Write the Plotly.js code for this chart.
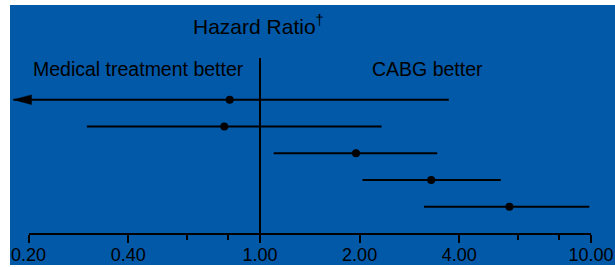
<!DOCTYPE html>
<html><head><meta charset="utf-8">
<script src="https://cdn.plot.ly/plotly-3.0.1.min.js"></script>
<style>html,body{margin:0;padding:0;background:#fff;} #chart{width:615px;height:267px;}</style>
</head><body><div id="chart"></div>
<script>
// ---- data ----
const rows = [1, 2, 3, 4, 5];
const hazardRatio = [0.81, 0.78, 1.95, 3.29, 5.67];
const lowerCI = [0.18, 0.30, 1.10, 2.04, 3.13];
const upperCI = [3.72, 2.33, 3.43, 5.34, 9.88];
const lowerOffScale = [true, false, false, false, false];
const tickVals = [0.2, 0.4, 1, 2, 4, 10];
const tickText = ['0.20', '0.40', '1.00', '2.00', '4.00', '10.00'];
const minorTickVals = [0.6, 0.8, 6, 8];
const refValue = 1;
const titleText = 'Hazard Ratio<sup>†</sup>';
const leftLabel = 'Medical treatment better';
const rightLabel = 'CABG better';

// ---- layout constants ----
const W = 615, H = 267;
const M = {l: 10, r: 0, t: 5, b: 2};
const pw = W - M.l - M.r, ph = H - M.t - M.b;
const pxPerDecade = 331;
const refPx = 260;               // pixel x of HR = 1
const axisLeftPx = 28.6, axisRightPx = 591;
const rowTopPx = 99.7, rowStepPx = 26.75;
const baselinePx = 233.5;
const FONT = 'Liberation Sans, Arial, sans-serif';
const BLUE = '#0159a8';

const xRange = [(M.l - refPx) / pxPerDecade, (W - M.r - refPx) / pxPerDecade];
const yTop = rows[0] - (rowTopPx - M.t) / rowStepPx;
const yBot = rows[0] + (H - M.b - rowTopPx) / rowStepPx;
const pyToVal = py => rows[0] + (py - rowTopPx) / rowStepPx;
const pxFrac = px => (px - M.l) / pw;
const pyFrac = py => (H - M.b - py) / ph;

const traces = [];
// CI lines
const lx = [], ly = [];
rows.forEach((r, i) => { lx.push(lowerCI[i], upperCI[i], null); ly.push(r, r, null); });
traces.push({x: lx, y: ly, mode: 'lines', line: {color: '#000', width: 2}, hoverinfo: 'skip', showlegend: false});
// arrowheads for off-scale limits
rows.forEach((r, i) => {
  if (!lowerOffScale[i]) return;
  const tip = lowerCI[i];
  const base = tip * Math.pow(10, 18 / pxPerDecade);
  const hh = 4.8 / rowStepPx;
  traces.push({x: [tip, base, base, tip], y: [r, r - hh, r + hh, r], mode: 'lines', fill: 'toself',
    fillcolor: '#000', line: {color: '#000', width: 0.5}, hoverinfo: 'skip', showlegend: false});
});
// point estimates
traces.push({x: hazardRatio, y: rows, mode: 'markers', marker: {color: '#000', size: 8}, hoverinfo: 'skip', showlegend: false});
// reference line at HR = 1
traces.push({x: [refValue, refValue], y: [pyToVal(58), pyToVal(baselinePx)], mode: 'lines',
  line: {color: '#000', width: 2}, hoverinfo: 'skip', showlegend: false});
// invisible trace to carry the scale axis
traces.push({x: [refValue], y: [rows[0]], xaxis: 'x2', yaxis: 'y', mode: 'markers', marker: {opacity: 0},
  hoverinfo: 'skip', showlegend: false});

const layout = {
  width: W, height: H, margin: M,
  paper_bgcolor: '#fff', plot_bgcolor: 'rgba(0,0,0,0)',
  font: {family: FONT, color: '#000'},
  showlegend: false,
  xaxis: {type: 'log', range: xRange, visible: false, fixedrange: true},
  xaxis2: {type: 'log', domain: [pxFrac(axisLeftPx), pxFrac(axisRightPx)],
    range: [Math.log10(tickVals[0]), Math.log10(tickVals[tickVals.length - 1])],
    anchor: 'free', position: pyFrac(baselinePx),
    showline: true, linecolor: '#000', linewidth: 2,
    ticks: 'outside', ticklen: 8, tickwidth: 2, tickcolor: '#000',
    tickmode: 'array', tickvals: tickVals, ticktext: tickText,
    tickfont: {family: FONT, size: 18, color: '#000'}, ticklabelstandoff: -3,
    showgrid: false, zeroline: false, fixedrange: true,
    minor: {tickmode: 'array', tickvals: minorTickVals, ticks: 'outside', ticklen: 5, tickwidth: 2, tickcolor: '#000', showgrid: false}
  },
  yaxis: {range: [yBot, yTop], visible: false, fixedrange: true},
  shapes: [{type: 'rect', xref: 'paper', yref: 'paper', x0: 0, x1: 1, y0: 0, y1: 1,
    fillcolor: BLUE, line: {width: 0}, layer: 'below'}],
  annotations: [
    {text: titleText, xref: 'paper', yref: 'paper', x: pxFrac(191), y: pyFrac(25), xanchor: 'left', yanchor: 'middle',
      showarrow: false, font: {family: FONT, size: 21, color: '#000'}},
    {text: leftLabel, xref: 'paper', yref: 'paper', x: pxFrac(31), y: pyFrac(69), xanchor: 'left', yanchor: 'middle',
      showarrow: false, font: {family: FONT, size: 19.5, color: '#000'}},
    {text: rightLabel, xref: 'paper', yref: 'paper', x: pxFrac(370), y: pyFrac(69), xanchor: 'left', yanchor: 'middle',
      showarrow: false, font: {family: FONT, size: 19.5, color: '#000'}}
  ]
};
Plotly.newPlot('chart', traces, layout, {displayModeBar: false, staticPlot: true});
</script>
</body></html>
